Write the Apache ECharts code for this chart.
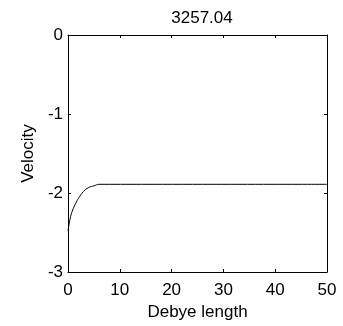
<!DOCTYPE html>
<html>
<head>
<meta charset="utf-8">
<script src="https://cdn.jsdelivr.net/npm/echarts@6/dist/echarts.min.js"></script>
<style>
html, body { margin: 0; padding: 0; background: #fff; }
#chart { width: 343px; height: 326px; }
</style>
</head>
<body>
<div id="chart"></div>
<script>
// values
var debye = [0, 0.5, 1, 1.5, 2, 3, 4, 5, 6, 50];
var velocity = [-2.48, -2.3, -2.2, -2.13, -2.07, -1.98, -1.93, -1.91, -1.89, -1.89];
var titleText = '3257.04';

var font = 'Liberation Sans, Arial, sans-serif';
var points = debye.map(function (d, i) { return [d, velocity[i]]; });

function boxAxis(pos, isX, showLabel) {
    var a = {
        type: 'value',
        position: pos,
        axisLine: { show: true, onZero: false, lineStyle: { color: '#000', width: 1 } },
        axisTick: { show: true, inside: true, length: 3, lineStyle: { color: '#000' } },
        axisLabel: { show: showLabel, color: '#000', fontFamily: font, fontSize: 17, margin: isX ? 10 : 5 },
        splitLine: { show: false }
    };
    if (isX) {
        a.min = 0; a.max = 50; a.interval = 10;
    } else {
        a.min = -3; a.max = 0; a.interval = 1;
    }
    return a;
}

var chart = echarts.init(document.getElementById('chart'));
var xBottom = boxAxis('bottom', true, true);
xBottom.name = 'Debye length';
xBottom.nameLocation = 'center';
xBottom.nameGap = 31;
xBottom.nameTextStyle = { color: '#000', fontFamily: font, fontSize: 17 };
var yLeft = boxAxis('left', false, true);
yLeft.name = 'Velocity';
yLeft.nameLocation = 'center';
yLeft.nameGap = 31;
yLeft.nameTextStyle = { color: '#000', fontFamily: font, fontSize: 17 };

chart.setOption({
    animation: false,
    title: {
        text: titleText, left: 197, top: 5, textAlign: 'center',
        textStyle: { color: '#000', fontFamily: font, fontSize: 17, fontWeight: 'normal' }
    },
    grid: { left: 68, right: 16, top: 35, bottom: 54, containLabel: false, outerBoundsMode: 'none' },
    xAxis: [xBottom, boxAxis('top', true, false)],
    yAxis: [yLeft, boxAxis('right', false, false)],
    series: [{
        type: 'line',
        data: points,
        showSymbol: false,
        smooth: true,
        lineStyle: { color: '#000', width: 1 }
    }]
});
</script>
</body>
</html>
